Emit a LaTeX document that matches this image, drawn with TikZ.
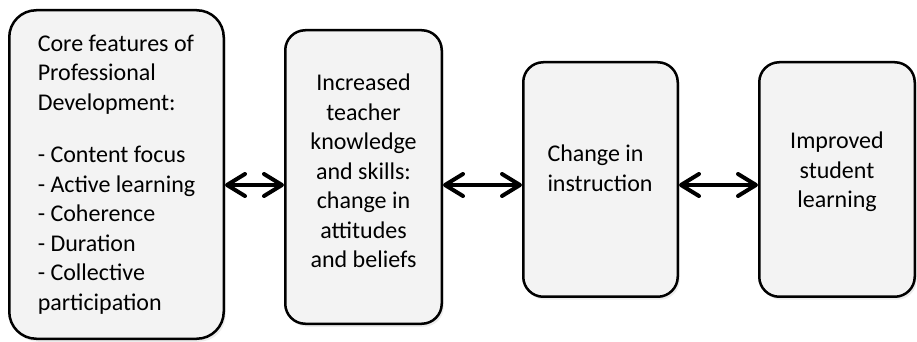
\documentclass[tikz,border=0pt]{standalone}
\usepackage{fontspec}
\setmainfont{Carlito}
\usetikzlibrary{arrows.meta,shadows}

\definecolor{boxgray}{RGB}{243,243,243}
\tikzset{
  stage/.style={draw=black,line width=1.25pt,rounded corners=10pt,fill=boxgray,
    drop shadow={opacity=0.15,shadow xshift=1pt,shadow yshift=-1.5pt},
    inner sep=0pt,font=\fontsize{12}{14.75}\selectfont},
  lift/.style={execute at end node={\par\vspace{#1}}},
  link/.style={{Straight Barb[length=9pt,width=11pt,round]}-{Straight Barb[length=9pt,width=11pt,round]},
    line width=2pt}
}

\begin{document}
\begin{tikzpicture}[x=0.5pt,y=-0.5pt]
	\useasboundingbox (0,0) rectangle (917,342);
	% the four stages
	\node[stage,rounded corners=13.5pt,minimum width=107.25pt,minimum height=164.25pt,align=left] (core) at (116.5,174.5)
		{Core features of\\Professional\\Development:\\[11.5pt]- Content focus\\- Active learning\\- Coherence\\- Duration\\- Collective\\participation};
	\node[stage,minimum width=78.25pt,minimum height=146.75pt,text width=66pt,
		align=flush center,lift=6pt] (know) at (363.5,177)
		{Increased\\teacher\\knowledge\\and skills:\\change in\\attitudes\\and beliefs};
	\node[stage,minimum width=77.25pt,minimum height=117.25pt,text width=53pt,
		align=flush left,lift=11pt] (instr) at (600.5,179.5)
		{Change in\\instruction};
	\node[stage,minimum width=77.75pt,minimum height=117.25pt,text width=60pt,
		align=flush center,lift=7.5pt] (learn) at (837,179.5)
		{Improved\\student\\learning};

	% two-way links
	\coordinate (axis) at (0,185);
	\draw[link] (core.east |- axis) -- (know.west |- axis);
	\draw[link] (know.east |- axis) -- (instr.west |- axis);
	\draw[link] (instr.east |- axis) -- (learn.west |- axis);
\end{tikzpicture}
\end{document}
